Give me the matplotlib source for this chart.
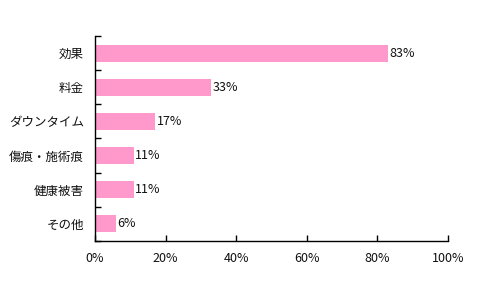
import matplotlib
matplotlib.use("Agg")
import matplotlib.pyplot as plt
from matplotlib.ticker import FixedLocator, PercentFormatter

plt.rcParams["font.family"] = ["Noto Sans CJK JP", "DejaVu Sans"]

categories = ["効果", "料金", "ダウンタイム", "傷痕・施術痕", "健康被害", "その他"]
values = [83, 33, 17, 11, 11, 6]
xticks = [0, 20, 40, 60, 80, 100]

fig = plt.figure(figsize=(4.8, 3.0), dpi=100)
ax = fig.add_axes([0.198, 0.197, 0.735, 0.683])

ypos = list(range(len(categories)))[::-1]
ax.barh(ypos, values, height=0.5, color="#FF99CC")
for y, v in zip(ypos, values):
    ax.text(v + 0.4, y, f"{v}%", va="center", ha="left", fontsize=9, color="#111111")

ax.set_xlim(0, 100)
ax.set_ylim(-0.5, len(categories) - 0.5)
ax.set_xticks(xticks)
ax.xaxis.set_major_formatter(PercentFormatter(decimals=0))
ax.set_yticks(ypos)
ax.set_yticklabels(categories)
ax.yaxis.set_minor_locator(FixedLocator([i - 0.5 for i in range(len(categories) + 1)]))
ax.tick_params(axis="y", which="major", length=0, pad=8, labelsize=9, labelcolor="#111111")
ax.tick_params(axis="y", which="minor", direction="in", length=4, width=1)
ax.tick_params(axis="x", direction="in", length=4, width=1, pad=8, labelsize=9, labelcolor="#111111")

for side in ["top", "right"]:
    ax.spines[side].set_visible(False)
ax.spines["left"].set_linewidth(1)
ax.spines["bottom"].set_linewidth(1)

fig.savefig("out.png", dpi=100)
